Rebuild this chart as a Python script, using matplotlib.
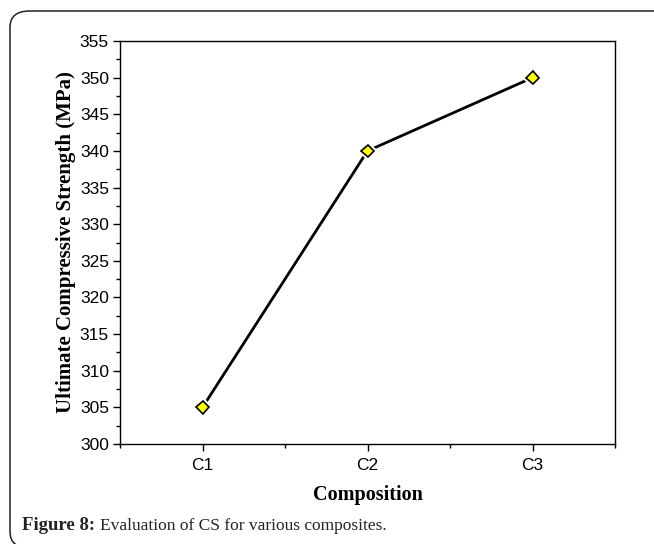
import matplotlib
matplotlib.use("Agg")
import matplotlib.pyplot as plt
import matplotlib.patheffects as pe
from matplotlib.patches import FancyBboxPatch
from matplotlib.ticker import MultipleLocator, FixedLocator

# data
categories = ["C1", "C2", "C3"]
strength = [305, 340, 350]

W, H = 654, 544
fig = plt.figure(figsize=(W / 100, H / 100), dpi=100)

# rounded frame around the whole figure (cut off right and bottom)
frame = FancyBboxPatch((10 / W, -4 / H), 700 / W, (H - 11 + 4) / H,
                       boxstyle="round,pad=0,rounding_size=0.03",
                       transform=fig.transFigure, fill=False,
                       edgecolor="#222222", linewidth=1.1, zorder=0)
fig.patches.append(frame)

ax = fig.add_axes([120 / W, 1 - 444 / H, 495 / W, 403 / H])

x = list(range(1, len(categories) + 1))
ax.plot(x, strength, color="black", linewidth=2.0, zorder=2)
ax.plot(x, strength, linestyle="none", marker="D", markersize=6.5,
        markerfacecolor="#ffff00", markeredgecolor="black", markeredgewidth=1.2,
        zorder=3,
        path_effects=[pe.Stroke(linewidth=4, foreground="white"), pe.Normal()])

ax.set_xlim(0.5, 3.5)
ax.set_ylim(300, 355)
ax.xaxis.set_major_locator(FixedLocator(x))
ax.set_xticklabels(categories)
ax.xaxis.set_minor_locator(MultipleLocator(1.0, offset=0.5))
ax.yaxis.set_major_locator(MultipleLocator(5))
ax.yaxis.set_minor_locator(MultipleLocator(2.5))

for s in ax.spines.values():
    s.set_linewidth(1.0)
ax.tick_params(which="major", length=5, width=1.0, direction="out",
               labelsize=12.5, pad=3)
ax.tick_params(which="minor", length=3, width=1.0, direction="out")
ax.tick_params(axis="x", which="major", pad=5)
for lbl in ax.get_xticklabels() + ax.get_yticklabels():
    lbl.set_fontfamily("Liberation Sans")

ax.set_ylabel("Ultimate Compressive Strength (MPa)", fontfamily="Liberation Serif",
              fontweight="bold", fontsize=15, labelpad=3)
ax.set_xlabel("Composition", fontfamily="Liberation Serif",
              fontweight="bold", fontsize=14.5, labelpad=9)

# caption
t1 = fig.text(22 / W, 1 - 530 / H, "Figure 8:", fontfamily="Liberation Serif",
              fontweight="bold", fontsize=13.5, color="#222222", va="baseline")
fig.canvas.draw()
x_end = t1.get_window_extent().x1
fig.text((x_end + 5) / W, 1 - 530 / H, "Evaluation of CS for various composites.",
         fontfamily="Liberation Serif", fontsize=12.5, color="#222222", va="baseline")

fig.savefig("out.png", dpi=100)
